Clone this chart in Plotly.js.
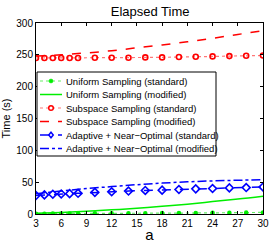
<!DOCTYPE html>
<html><head><meta charset="utf-8">
<script src="https://cdn.plot.ly/plotly-3.0.1.min.js"></script>
<style>html,body{margin:0;padding:0;background:#fff}#chart{width:273px;height:245px}</style>
</head><body><div id="chart"></div>
<script>
const xStd = [3,4,5,6,7,8,10,12,14,16,18,20,22,24,26,28,30];
const xMod = [3,6,9,12,15,18,21,24,27,30];
const uniformStd = [0.5,0.5,0.6,0.7,0.8,0.9,1,1.1,1.2,1.3,1.4,1.5,1.6,1.8,2,2.2,2.5];
const uniformMod = [1,2.5,4.5,6.5,9,12,15.5,19.5,23.5,28];
const subspaceStd = [245,245,245,245,245,245,245.5,245.5,245.5,246,246,246.5,247,247.5,248,248.5,249];
const subspaceMod = [248,250,253,256.5,261,265.5,270.5,276,282,288];
const adaptiveStd = [29,30,31,31.5,32,32.5,34,35,36,37,37.5,38.5,39.5,40,41,41.5,42.5];
const adaptiveMod = [32,36,40,43,46,48.5,50.5,52,53,54];
const names = ["Uniform Sampling (standard)","Uniform Sampling (modified)","Subspace Sampling (standard)","Subspace Sampling (modified)","Adaptive + Near\u2212Optimal (standard)","Adaptive + Near\u2212Optimal (modified)"];
const xTicks = [3,6,9,12,15,18,21,24,27,30];
const yTicks = [0,50,100,150,200,250,300];

const G='#00ee00', R='#ff0000', B='#0000ff';
const styles = [
 {line:{color:'#66ee66',dash:'dot',width:1.2}, marker:{kind:'circle',fill:G,stroke:G,r:2}},
 {line:{color:G,dash:'solid',width:1.5}},
 {line:{color:'#ff7777',dash:'dot',width:1.2}, marker:{kind:'circle',fill:'#fff',stroke:R,r:2.3}},
 {line:{color:R,dash:'dash',width:1.5}},
 {line:{color:B,dash:'dash',width:1.5}, marker:{kind:'diamond',fill:'#fff',stroke:B,r:2.8}},
 {line:{color:B,dash:'dashdot',width:1.5}}
];
const traces = [
 {x:xStd,y:uniformStd,name:names[0],mode:'lines+markers',line:Object.assign({},styles[0].line),marker:{color:G,size:4.5,symbol:'circle'}},
 {x:xMod,y:uniformMod,name:names[1],mode:'lines',line:Object.assign({shape:'spline'},styles[1].line)},
 {x:xStd,y:subspaceStd,name:names[2],mode:'lines+markers',line:Object.assign({},styles[2].line),marker:{color:R,size:5,symbol:'circle-open',line:{color:R,width:1.6}}},
 {x:xMod,y:subspaceMod,name:names[3],mode:'lines',line:Object.assign({shape:'spline'},styles[3].line)},
 {x:xStd,y:adaptiveStd,name:names[4],mode:'lines+markers',line:Object.assign({},styles[4].line),marker:{color:B,size:6,symbol:'diamond-open',line:{color:B,width:1.6}}},
 {x:xMod,y:adaptiveMod,name:names[5],mode:'lines',line:Object.assign({shape:'spline'},styles[5].line)}
];

// manual legend (real text), placed in pixel-derived paper coords
const M = {l:36,r:10,t:23,b:31}, W=273, H=245;
const pw = W-M.l-M.r, ph = H-M.t-M.b;
const px = v => (v-M.l)/pw, py = v => (H-M.b-v)/ph;
const shapes = [{type:'rect',xref:'paper',yref:'paper',x0:px(37),x1:px(216),y0:py(72),y1:py(156),fillcolor:'#fff',line:{color:'#000',width:1},layer:'above'}];
const annotations = [];
names.forEach((n,i)=>{
  const yc = 81 + i*13.5;
  const st = styles[i];
  shapes.push({type:'line',xref:'paper',yref:'paper',x0:px(40),x1:px(62),y0:py(yc),y1:py(yc),line:{color:st.line.color,dash:st.line.dash,width:st.line.width},layer:'above'});
  if(st.marker){
    const m = st.marker, r = m.r;
    const base = {xref:'paper',yref:'paper',xsizemode:'pixel',ysizemode:'pixel',xanchor:px(51),yanchor:py(yc),fillcolor:m.fill,line:{color:m.stroke,width:m.fill===G?0.5:1.5},layer:'above'};
    if(m.kind==='circle') shapes.push(Object.assign({type:'circle',x0:-r,x1:r,y0:-r,y1:r},base));
    else shapes.push(Object.assign({type:'path',path:`M0,${r} L${r*0.8},0 L0,${-r} L${-r*0.8},0 Z`},base));
  }
  annotations.push({xref:'paper',yref:'paper',x:px(64),y:py(yc),xanchor:'left',yanchor:'middle',showarrow:false,text:n,font:{size:9.5,color:'#000'}});
});

const axisBase = {showline:true,mirror:'ticks',linecolor:'#000',linewidth:1,ticks:'inside',ticklen:3,tickcolor:'#000',showgrid:false,zeroline:false,tickfont:{size:10,color:'#000'}};
const layout = {
 width:W,height:H,margin:M,
 paper_bgcolor:'#fff',plot_bgcolor:'#fff',
 font:{family:'Liberation Sans, Arial, sans-serif',color:'#000'},
 title:{text:'Elapsed Time',font:{size:13,color:'#000'},x:0.55,xanchor:'center',y:0.955,yanchor:'middle'},
 xaxis:Object.assign({},axisBase,{range:[3,30],tickvals:xTicks,title:{text:'a',font:{size:15},standoff:1}}),
 yaxis:Object.assign({},axisBase,{range:[0,300],tickvals:yTicks,title:{text:'Time (s)',font:{size:11},standoff:4}}),
 showlegend:false,
 shapes:shapes, annotations:annotations
};
Plotly.newPlot('chart',traces,layout,{displayModeBar:false,staticPlot:true});
</script></body></html>
